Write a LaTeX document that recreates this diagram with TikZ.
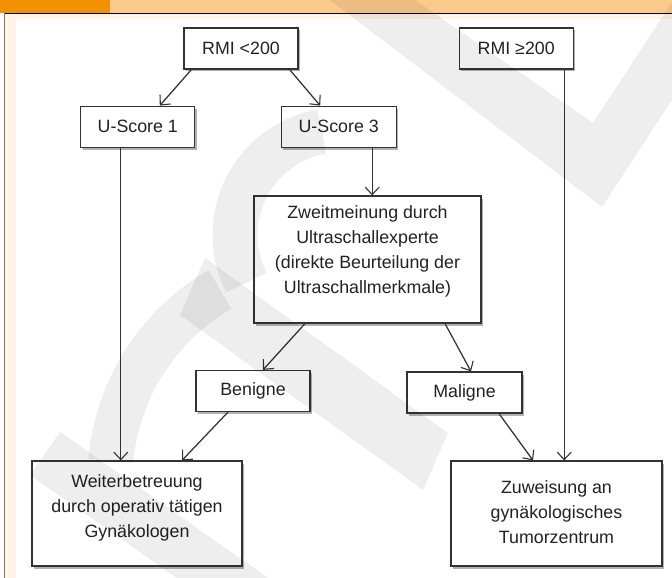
\documentclass[tikz,border=0pt]{standalone}
\usepackage{fontspec}
\setmainfont{Liberation Sans}
\usetikzlibrary{arrows.meta}
\usetikzlibrary{positioning}
\usetikzlibrary{shadows}
\definecolor{hdrdark}{HTML}{F39200}
\definecolor{hdrlight}{HTML}{FCCB8A}
\definecolor{cream}{HTML}{FFF4E6}
\definecolor{ink}{HTML}{333333}
\definecolor{textink}{HTML}{222222}
\tikzset{
  % framed box with a soft shadow
  box/.style = {
    draw = ink,
    line width = 1.2pt,
    fill = white,
    inner sep = 0pt,
    drop shadow = {shadow xshift=2pt, shadow yshift=-2.5pt, fill=black, opacity=0.3}
  },
  % text inside a box
  boxtext/.style = {
    text = textink,
    align = center,
    inner sep = 0pt,
    font = \fontsize{17.8}{25}\selectfont
  },
  % one line box
  small/.style = {
    box,
    boxtext,
    minimum width = 114pt,
    minimum height = 41pt
  },
  % big box, text set as a node of its own
  big/.style = {
    box,
    minimum width = 211pt,
    minimum height = 105pt
  },
  % connector
  flow/.style = {
    draw = ink,
    line width = 1.25pt,
    -{Straight Barb[length=7.5pt, width=14pt, line width=1.1pt]}
  },
  % faint logo in the back
  logofill/.style = {
    fill = black,
    fill opacity = 0.065
  },
  logoline/.style = {
    draw = black,
    draw opacity = 0.065,
    line width = 45pt
  },
  node distance = 36pt
}

\begin{document}
\begin{tikzpicture}[x=1pt, y=-1pt]
  \useasboundingbox (0,0) rectangle (672,578);
  % page frame
  \fill[hdrlight] (0,0) rectangle (672,13);
  \fill[hdrdark] (0,0) rectangle (110,13);
  \fill[cream] (5,14) rectangle (672,578);
  \fill[white] (16,19) rectangle (672,578);
  \draw[black, line width=1.2pt] (4,13.5) -- (672,13.5);
  \draw[black!55, line width=1.2pt] (4.5,13) -- (4.5,578);

  \node[small] (rmi-low) at (241,48.5) {RMI <200};
  \node[small] (rmi-high) [right=160pt of rmi-low] {RMI ≥200};
  \node[small] (score-one) [below left=36pt and -12pt of rmi-low] {U-Score 1};
  \node[small, minimum width=115pt] (score-three) [below right=36pt and -18pt of rmi-low] {U-Score 3};
  \node[big, minimum width=227pt, minimum height=127pt] (second) at (367.5,259.5) {};
  \node[boxtext] (second-text) at ([yshift=8pt]second.center)
    {Zweitmeinung durch\\Ultraschallexperte\\(direkte Beurteilung der\\Ultraschallmerkmale)};
  \node[small] (benign) at (253,391) {Benigne};
  \node[small, minimum width=115pt] (malign) at (464.5,392.5) {Maligne};
  \node[big, minimum width=210pt] (further) at (137,513.5) {};
  \node[boxtext] (further-text) at ([yshift=6pt]further.center)
    {Weiterbetreuung\\durch operativ tätigen\\Gynäkologen};
  \node[big] (centre) at (556.5,513.5) {};
  \node[boxtext] (centre-text) at ([yshift=1pt]centre.center)
    {Zuweisung an\\gynäkologisches\\Tumorzentrum};

  \draw[flow] ([xshift=8pt]rmi-low.south west) -- ([xshift=22pt]score-one.north);
  \draw[flow] ([xshift=-9pt]rmi-low.south east) -- ([xshift=-18.5pt]score-three.north);
  \draw[flow] ([xshift=33.5pt]score-three.south) -- ([xshift=33.5pt]score-three.south |- second.north);
  \draw[flow] ([xshift=-17pt]score-one.south) -- ([xshift=-17pt]score-one.south |- further.north);
  \draw[flow] ([xshift=48pt]rmi-high.south) -- ([xshift=48pt]rmi-high.south |- centre.north);
  \draw[flow] ([xshift=-62.5pt]second.south) -- ([xshift=10pt]benign.north);
  \draw[flow] ([xshift=77.5pt]second.south) -- ([xshift=6.5pt]malign.north);
  \draw[flow] ([xshift=-25pt]benign.south) -- ([xshift=45pt]further.north);
  \draw[flow] ([xshift=34.5pt]malign.south) -- ([xshift=-23.5pt]centre.north);

  % logo in the back
  \begin{scope}
    \clip (0,0) rectangle (672,578);
    \fill[logofill] (330,0) -- (415,0) -- (593,123) -- (672,2) -- (672,100) -- (602,207) -- cycle;
    \fill[logofill] (205,258) -- (448,433) -- (423,490) -- (180,315) -- cycle;
    \fill[logofill] (60,432) -- (388,662) -- (358,705) -- (30,475) -- cycle;
    \draw[logoline] (340,235) ++(260:105) arc (260:153:105);
    \draw[logoline] (330,480) ++(240:220) arc (240:185:220);
  \end{scope}
\end{tikzpicture}
\end{document}
